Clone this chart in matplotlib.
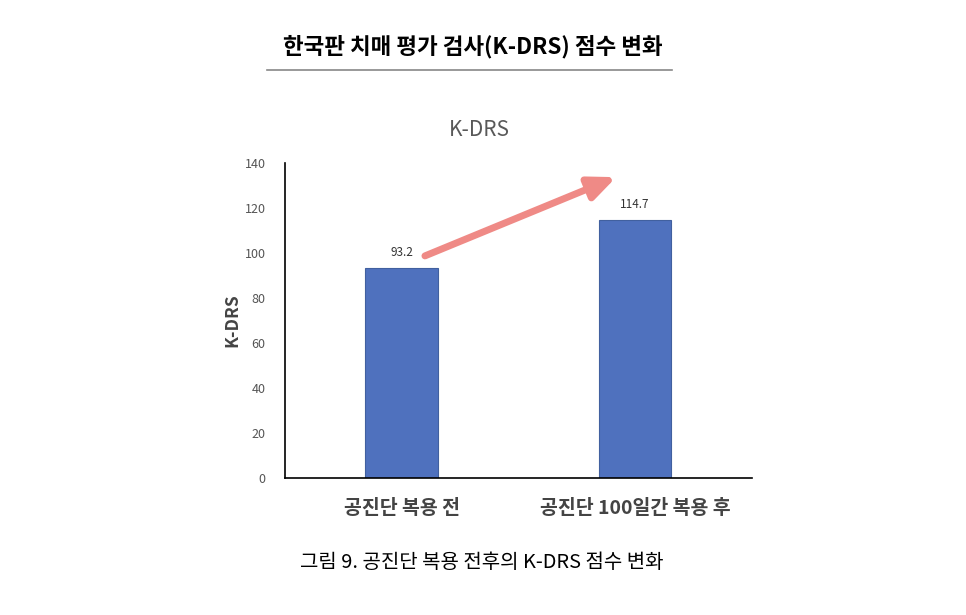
import matplotlib.pyplot as plt
from matplotlib.lines import Line2D

plt.rcParams['font.family'] = ['Noto Sans CJK KR', 'DejaVu Sans']

# 데이터
categories = ['공진단 복용 전', '공진단 100일간 복용 후']
scores = [93.2, 114.7]
y_ticks = [0, 20, 40, 60, 80, 100, 120, 140]

bar_color = '#4F71BE'
arrow_color = '#EF8A86'

fig = plt.figure(figsize=(9.66, 6.15), dpi=100)
ax = fig.add_axes([0.295, 0.2228, 0.483, 0.5122])

x = range(len(categories))
ax.bar(x, scores, width=0.31, color=bar_color, edgecolor='#41609F', linewidth=0.8)
for xi, v in zip(x, scores):
    ax.text(xi, v + 4, f'{v}', ha='center', va='bottom', fontsize=8.5, color='#333333')

ax.set_xlim(-0.5, 1.5)
ax.set_ylim(0, 140)
ax.set_yticks(y_ticks)
ax.set_xticks(list(x))
ax.set_xticklabels(categories, fontsize=14, fontweight='bold', color='#444444')
ax.tick_params(axis='x', length=0, pad=15)
ax.tick_params(axis='y', length=0, pad=14, labelsize=9, labelcolor='#555555')
for s in ['top', 'right']:
    ax.spines[s].set_visible(False)
ax.spines['left'].set_color('black')
ax.spines['bottom'].set_color('black')
ax.spines['left'].set_linewidth(1.2)
ax.spines['bottom'].set_linewidth(1.2)
ax.set_ylabel('K-DRS', fontsize=12.5, fontweight='bold', color='#444444', labelpad=2)

# 증가 화살표
ax.annotate('', xy=(0.92, scores[1] + 19), xytext=(0.1, scores[0] + 5.5),
            arrowprops=dict(arrowstyle='-|>,head_length=1.6,head_width=0.7',
                            color=arrow_color, lw=5, shrinkA=0, shrinkB=0))

fig.text(479 / 966, 1 - 130 / 615, 'K-DRS', ha='center', va='center',
         fontsize=15, color='#595959')

fig.text(473 / 966, 1 - 47 / 615, '한국판 치매 평가 검사(K-DRS) 점수 변화', ha='center', va='center',
         fontsize=16.2, fontweight='bold', color='black')
fig.add_artist(Line2D([267 / 966, 672 / 966], [1 - 70 / 615, 1 - 70 / 615],
                      color='#888888', lw=1.2))
fig.text(482 / 966, 1 - 563 / 615, '그림 9. 공진단 복용 전후의 K-DRS 점수 변화', ha='center', va='center',
         fontsize=14.4, color='black')

fig.savefig('out.png', dpi=100)
